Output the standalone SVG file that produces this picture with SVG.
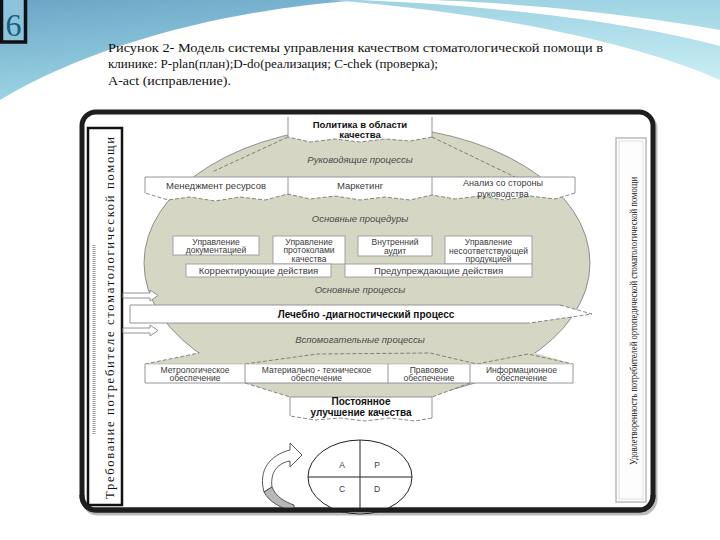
<svg xmlns="http://www.w3.org/2000/svg" width="720" height="540" viewBox="0 0 720 540">
<defs>
<linearGradient id="skyL" x1="0" y1="0" x2="0.3" y2="1">
<stop offset="0" stop-color="#6aa5c6"/><stop offset="1" stop-color="#9fd8e6"/>
</linearGradient>
<linearGradient id="skyR" x1="0" y1="0" x2="0" y2="1">
<stop offset="0" stop-color="#9fd3e3"/><stop offset="1" stop-color="#c9eef4"/>
</linearGradient>
<style>
.lbl{font-family:"Liberation Sans",Arial,sans-serif;fill:#3a3a3a;text-anchor:middle}
.it{font-family:"Liberation Sans",Arial,sans-serif;font-style:italic;fill:#4a4a4a;text-anchor:middle;font-size:9.5px}
.bold{font-family:"Liberation Sans",Arial,sans-serif;font-weight:bold;fill:#111;text-anchor:middle}
.box{fill:#fff;stroke:#9a9a9a;stroke-width:0.9}
.sol{fill:none;stroke:#8a8a8a;stroke-width:0.9}
.dash{fill:none;stroke:#6a6a6a;stroke-width:0.8;stroke-dasharray:4 2}
.grey{fill:#d6d6c4}
.ser{font-family:"Liberation Serif","Times New Roman",serif;fill:#111}
</style>
</defs>
<rect width="720" height="540" fill="#fff"/>
<!-- background wave -->
<path d="M0,0 H360 C250,8 110,35 0,100 Z" fill="url(#skyL)"/>
<path d="M330,0 H720 V80 C650,48 510,14 330,0 Z" fill="url(#skyR)"/>
<path d="M360,0 C500,6 630,22 720,46 L720,30 C620,12 500,2 430,0 Z" fill="#fff"/>
<!-- slide number -->
<g id="slide-number">
<rect x="1.5" y="-2" width="24" height="44" fill="#8cc4dc" stroke="#111" stroke-width="3.5"/>
<text x="13.5" y="36" font-family="Liberation Serif,serif" font-size="32" fill="#15607c" text-anchor="middle">6</text>
</g>
<!-- title -->
<g id="title" class="ser" font-size="13.5">
<text x="108" y="52" textLength="495" lengthAdjust="spacingAndGlyphs">Рисунок 2- Модель системы  управления качеством  стоматологической помощи  в</text>
<text x="108" y="68" textLength="330" lengthAdjust="spacingAndGlyphs">клинике: P-plan(план);D-do(реализация; C-chek (проверка);</text>
<text x="108" y="85" textLength="123" lengthAdjust="spacingAndGlyphs">A-act (исправление).</text>
</g>
<!-- frame -->
<rect x="84" y="115" width="571" height="398" rx="14" fill="none" stroke="#bbb" stroke-width="5"/>
<rect x="82" y="112" width="571" height="398" rx="14" fill="#fff" stroke="#1e1e1e" stroke-width="5"/>
<!-- left requirement box -->
<g id="requirements">
<rect x="88" y="128" width="34" height="377" fill="#fff" stroke="#111" stroke-width="2.5"/>
<line x1="94" y1="245" x2="94" y2="435" stroke="#999" stroke-width="3" stroke-dasharray="1 1"/>
<text class="ser" font-size="12.5" transform="translate(114,318) rotate(-90)" text-anchor="middle" textLength="362" lengthAdjust="spacing">Требование  потребителе  стоматологической  помощи</text>
</g>
<!-- right satisfaction box -->
<g id="satisfaction">
<rect x="616" y="138" width="30" height="364" fill="#fdfdfd" stroke="#bbb" stroke-width="1.5"/>
<rect x="619" y="141" width="24" height="358" fill="none" stroke="#e0e0e0" stroke-width="1"/>
<text class="ser" font-size="10" transform="translate(637,321) rotate(-90)" text-anchor="middle" textLength="288" lengthAdjust="spacingAndGlyphs">Удовлетворенность  потребителей ортопедической стоматологической помощи</text>
</g>
<!-- big ellipse background -->
<g id="process-field">
<ellipse cx="367" cy="263" rx="223" ry="137" class="grey" stroke="#777" stroke-width="0.8"/>
<polygon points="145,364 199,353 535,353 573,364" class="grey"/>
<polygon points="245,383 290,397 432,397 470,383" class="grey"/>
</g>
<g id="connectors">
<path class="dash" d="M288,137 L212,172 M432,137 L515,177"/>
<path class="dash" d="M145,364 L199,353 M245,364 L317,354 L430,353 L477,364 L528,354 L573,364"/>
<path class="dash" d="M245,383 L290,397 M470,383 L432,397"/>
<path d="M123,293 H150 V290 L158,295.5 L150,301 V298 H123 Z" fill="#fff" stroke="#888" stroke-width="0.9"/>
<path d="M123,328 H150 V325 L158,330.5 L150,336 V333 H123 Z" fill="#fff" stroke="#888" stroke-width="0.9"/>
<path d="M264,492 C258,470 270,455 290,450 L290,443 L302,455 L290,467 L290,461 C278,463 270,472 272,487 Z" fill="#fff" stroke="#444" stroke-width="0.9"/>
<path d="M264,492 L272,487 C276,497 285,502 294,505 L294,512 C281,508 269,502 264,492 Z" fill="#b8b8b8" stroke="#444" stroke-width="0.9"/>
</g>
<!-- policy -->
<g id="policy">
<path d="M288,117 H432 V137 L410,141 L385,139 L360,142 L335,139 L310,142 L288,137 Z" fill="#fff"/>
<path class="sol" d="M288,137 V117 M432,117 V137"/>
<path class="dash" d="M432,137 L410,141 L385,139 L360,142 L335,139 L310,142 L288,137"/>
<text class="bold" font-size="9.5" x="360" y="127.5">Политика в области</text>
<text class="bold" font-size="9.5" x="360" y="138">качества</text>
</g>
<text class="it" x="360" y="163">Руководящие процессы</text>
<!-- management row -->
<g id="management-row">
<path d="M145,177 H575 V193 L555,199 L530,196 L505,200 L480,196 L455,199 L432,195 L410,200 L385,197 L360,200 L335,196 L310,199 L288,194 L265,200 L240,197 L215,201 L190,197 L168,200 L145,193 Z" fill="#fff"/>
<path class="sol" d="M145,193 V177 H575 V193 M288,177 V195 M432,177 V195"/>
<path class="dash" d="M575,193 L555,199 L530,196 L505,200 L480,196 L455,199 L432,195 L410,200 L385,197 L360,200 L335,196 L310,199 L288,194 L265,200 L240,197 L215,201 L190,197 L168,200 L145,193"/>
</g>
<g id="resource-mgmt"><text class="lbl" font-size="9.5" x="216" y="188.5">Менеджмент ресурсов</text></g>
<g id="marketing"><text class="lbl" font-size="9.5" x="360" y="188.5">Маркетинг</text></g>
<g id="mgmt-review"><text class="lbl" font-size="9" x="503" y="186">Анализ со стороны</text><text class="lbl" font-size="9" x="503" y="196.5">руководства</text></g>
<text class="it" x="360" y="222">Основные процедуры</text>
<!-- procedures -->
<g id="doc-control"><rect class="box" x="173" y="236" width="86" height="19"/>
<text class="lbl" font-size="8.5" x="216" y="244.5">Управление</text><text class="lbl" font-size="8.5" x="216" y="253">документацией</text></g>
<g id="record-control"><rect class="box" x="273" y="236" width="72" height="28"/>
<text class="lbl" font-size="8.5" x="309" y="244.5">Управление</text><text class="lbl" font-size="8.5" x="309" y="253">протоколами</text><text class="lbl" font-size="8.5" x="309" y="261.5">качества</text></g>
<g id="internal-audit"><rect class="box" x="358" y="236" width="74" height="20"/>
<text class="lbl" font-size="8.5" x="395" y="245">Внутренний</text><text class="lbl" font-size="8.5" x="395" y="253.5">аудит</text></g>
<g id="nonconformity"><rect class="box" x="445" y="236" width="87" height="28"/>
<text class="lbl" font-size="8.5" x="488.5" y="245">Управление</text><text class="lbl" font-size="8.5" x="488.5" y="253.5">несоответствующей</text><text class="lbl" font-size="8.5" x="488.5" y="262">продукцией</text></g>
<g id="corrective"><rect class="box" x="186" y="264" width="145" height="13"/>
<text class="lbl" font-size="9.5" x="258.5" y="274">Корректирующие действия</text></g>
<g id="preventive"><rect class="box" x="345" y="264" width="187" height="13"/>
<text class="lbl" font-size="9.5" x="438.5" y="274">Предупреждающие действия</text></g>
<text class="it" x="360" y="293">Основные процессы</text>
<!-- treatment process band -->
<g id="treatment">
<polygon points="130,305 560,305 592,314 530,323 130,323" fill="#fff"/>
<path class="sol" d="M560,305 H130 V323 H530"/>
<path class="dash" d="M560,305 L592,314 L530,323"/>
<text class="bold" font-size="10" x="366" y="318">Лечебно -диагностический процесс</text>
</g>
<text class="it" x="360" y="343">Вспомогательные процессы</text>
<!-- support row -->
<path d="M145,364 H573 V383 H145 Z" fill="#fff"/>
<path class="sol" d="M145,364 V383 H573 V364 M245,364 V383 M388,364 V383 M470,364 V383"/>
<line x1="145" y1="364" x2="573" y2="364" stroke="#aaa" stroke-width="0.6"/>
<g id="metrology"><text class="lbl" font-size="8.5" x="195" y="372.5">Метрологическое</text><text class="lbl" font-size="8.5" x="195" y="381">обеспечение</text></g>
<g id="material"><text class="lbl" font-size="8.5" x="316.5" y="372.5">Материально - техническое</text><text class="lbl" font-size="8.5" x="316.5" y="381">обеспечение</text></g>
<g id="legal"><text class="lbl" font-size="8.5" x="429" y="372.5">Правовое</text><text class="lbl" font-size="8.5" x="429" y="381">обеспечение</text></g>
<g id="information"><text class="lbl" font-size="8.5" x="521.5" y="372.5">Информационное</text><text class="lbl" font-size="8.5" x="521.5" y="381">обеспечение</text></g>
<!-- continuous improvement -->
<g id="improvement">
<path d="M290,397 H432 V418 L415,421 L390,418 L365,421 L340,418 L315,420 L290,416 Z" fill="#fff"/>
<path class="sol" d="M290,416 V397 H432 V418"/>
<path class="dash" d="M432,418 L415,421 L390,418 L365,421 L340,418 L315,420 L290,416"/>
<text class="bold" font-size="10" x="361" y="404.5">Постоянное</text>
<text class="bold" font-size="10" x="361" y="415.5">улучшение качества</text>
</g>
<!-- PDCA -->
<g id="pdca">
<ellipse cx="360" cy="477" rx="52" ry="37" fill="#fff" stroke="#222" stroke-width="1"/>
<line x1="360" y1="440" x2="360" y2="510" stroke="#222" stroke-width="1"/>
<line x1="308" y1="477" x2="412" y2="477" stroke="#222" stroke-width="1"/>
<text class="lbl" font-size="8.5" x="342" y="468">A</text>
<text class="lbl" font-size="8.5" x="377" y="468">P</text>
<text class="lbl" font-size="8.5" x="342" y="492">C</text>
<text class="lbl" font-size="8.5" x="377" y="492">D</text>
</g>
<!-- re-draw frame bottom over pdca -->
<path d="M82,495 V496 A14,14 0 0 0 96,510 H639 A14,14 0 0 0 653,496 V495" fill="none" stroke="#1e1e1e" stroke-width="5"/>
</svg>
